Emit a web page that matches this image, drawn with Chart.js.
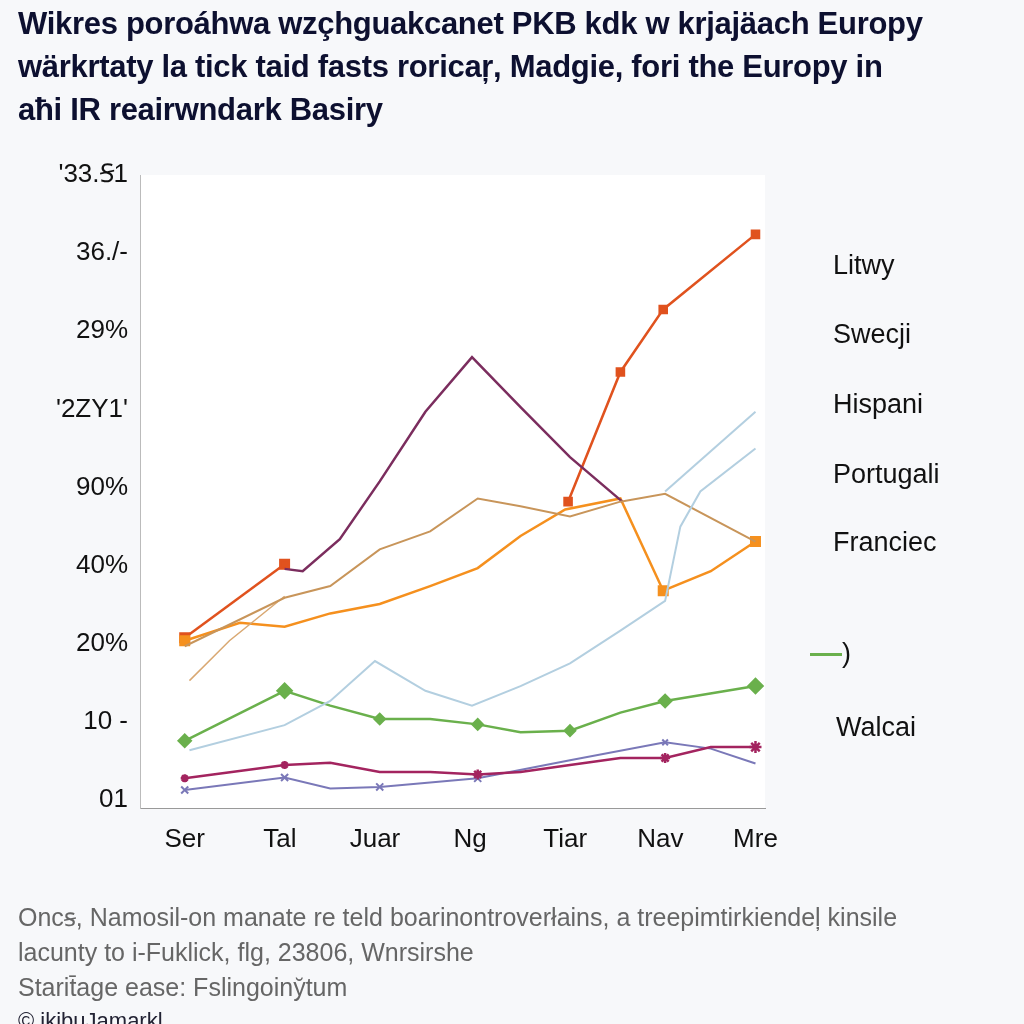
<!DOCTYPE html>
<html><head><meta charset="utf-8">
<script src="https://cdn.jsdelivr.net/npm/chart.js@4"></script>
<style>
body{margin:0;background:#f7f8fa;font-family:"Liberation Sans",Arial,sans-serif;}
#wrap{position:relative;width:1024px;height:1024px;overflow:hidden}
canvas{position:absolute;left:0;top:0}
.t{position:absolute;color:#111}
#title{left:18px;top:2px;font-size:31px;font-weight:bold;line-height:43px;color:#0d1030;letter-spacing:-0.3px}
.lg{position:absolute;left:833px;font-size:27px;color:#111}
#foot{left:18px;top:900px;font-size:25px;line-height:35px;color:#666}
</style></head><body><div id="wrap">
<canvas id="c" width="1024" height="1024"></canvas>
<div id="title" class="t">Wikres poroáhwa wzçhguakcanet PKB kdk w krjajäach Europy<br>wärkrtaty la tick taid fasts roricaŗ, Madgie, fori the Europy in<br>aħi IR reairwndark Basiry</div>
<div class="lg" style="top:250px">Litwy</div>
<div class="lg" style="top:319px">Swecji</div>
<div class="lg" style="top:389px">Hispani</div>
<div class="lg" style="top:459px">Portugali</div>
<div class="lg" style="top:527px">Franciec</div>
<div class="lg" style="top:638px;left:810px"><span style="display:inline-block;width:32px;height:3px;background:#6ab04c;vertical-align:middle"></span>)</div>
<div class="lg" style="top:712px;left:836px">Walcai</div>
<div id="foot" class="t">Oncꞩ, Namosil-on manate re teld boarinontroverłains, a treepimtirkiendeļ kinsile<br>lacunty to i-Fuklick, flg, 23806, Wnrsirshe<br>Starit̄age ease: Fslingoiny̆tum</div>
<div class="t" style="left:18px;top:1008px;font-size:22px;color:#223">© ikibuJamarkl</div>
</div>
<script>
const xLabels=["Ser","Tal","Juar","Ng","Tiar","Nav","Mre"];
const yLabels=["01","10 -","20%","40%","90%","'2ZY1'","29%","36./-","'33.Ꞩ1"];
const redA=[[0,2.08],[1.05,3.02]];
const redB=[[4.03,3.82],[4.58,5.48],[5.03,6.28],[6.0,7.24]];
const purple=[[1.05,2.96],[1.24,2.93],[1.63,3.34],[2.05,4.08],[2.53,4.97],[3.02,5.67],[3.53,5.03],[4.05,4.39],[4.6,3.82]];
const tan=[[0,1.97],[1.05,2.59],[1.53,2.74],[2.05,3.21],[2.58,3.44],[3.08,3.86],[3.53,3.76],[4.05,3.63],[4.58,3.82],[5.05,3.92],[6.0,3.31]];
const tan2=[[0.05,1.53],[0.47,2.04],[1.05,2.61]];
const orange=[[0,2.04],[0.58,2.27],[1.05,2.22],[1.53,2.39],[2.05,2.51],[2.58,2.74],[3.08,2.97],[3.53,3.38],[4.0,3.72],[4.58,3.86],[5.03,2.68],[5.53,2.93],[6.0,3.31]];
const lblue=[[0.05,0.64],[1.05,0.96],[1.53,1.27],[2.0,1.78],[2.53,1.4],[3.02,1.21],[3.53,1.46],[4.05,1.75],[4.58,2.17],[5.05,2.55],[5.21,3.5],[5.42,3.95],[6.0,4.5]];
const lblue2=[[5.05,3.95],[6.0,4.97]];
const green=[[0,0.76],[1.05,1.4],[1.53,1.21],[2.05,1.04],[2.58,1.04],[3.08,0.97],[3.53,0.87],[4.05,0.89],[4.58,1.12],[5.05,1.27],[6.0,1.46]];
const magenta=[[0,0.28],[1.05,0.45],[1.53,0.48],[2.05,0.36],[2.58,0.36],[3.08,0.33],[3.53,0.36],[4.05,0.45],[4.58,0.54],[5.05,0.54],[5.53,0.68],[6.0,0.68]];
const blue=[[0,0.13],[1.05,0.29],[1.53,0.15],[2.05,0.17],[3.08,0.28],[4.05,0.51],[5.05,0.74],[5.53,0.66],[6.0,0.47]];
const pts=a=>a.map(p=>({x:p[0],y:p[1]}));
function ds(d,c,w,r,s){return {data:pts(d),borderColor:c,backgroundColor:c,borderWidth:w,pointRadius:r,pointStyle:s||'rect',tension:0};}
const bg={id:'bg',beforeDraw(ch){const a=ch.chartArea,x=ch.ctx;x.save();x.fillStyle='#fff';x.fillRect(a.left,a.top,a.right-a.left,a.bottom-a.top);x.restore();}};
new Chart(document.getElementById('c'),{type:'line',
data:{datasets:[
ds(lblue,'#b3cfe0',2,0),ds(lblue2,'#b3cfe0',2,0),
ds(tan,'#c8955a',2,0),ds(tan2,'#d9a872',1.5,0),
ds(purple,'#7b2d5e',2.5,0),
ds(orange,'#f5901e',2.5,[6,0,0,0,0,0,0,0,0,0,6,0,6]),
ds(redA,'#e0521e',2.5,6),ds(redB,'#e0521e',2.5,5),
ds(green,'#6ab04c',2.5,[6,7,0,5,0,5,0,5,0,6,7],'rectRot'),
ds(magenta,'#a3245f',2.5,[4,4,0,0,0,5,0,0,0,5,0,6],'star'),
ds(blue,'#7a78b8',2,[5,5,0,5,5,0,4,0,0],'crossRot')
]},
options:{responsive:false,animation:false,
layout:{padding:{top:175,right:259,bottom:156,left:0}},
plugins:{legend:{display:false},tooltip:{enabled:false}},
scales:{
x:{type:'linear',min:-0.47,max:6.1,afterFit:s=>{s.height=60},
 afterBuildTicks:s=>{s.ticks=xLabels.map((l,i)=>({value:i}))},
 grid:{display:false,drawTicks:false},border:{color:'#999'},
 ticks:{padding:16,color:'#111',font:{size:26,family:'Liberation Sans'},callback:v=>xLabels[v]}},
y:{min:-0.1,max:8,afterFit:s=>{s.width=140},
 afterBuildTicks:s=>{s.ticks=yLabels.map((l,i)=>({value:i}))},
 grid:{display:false,drawTicks:false},border:{color:'#bbb'},
 ticks:{padding:12,color:'#111',font:{size:26,family:'Liberation Sans'},callback:v=>yLabels[v]}}
}},plugins:[bg]});
</script></body></html>
